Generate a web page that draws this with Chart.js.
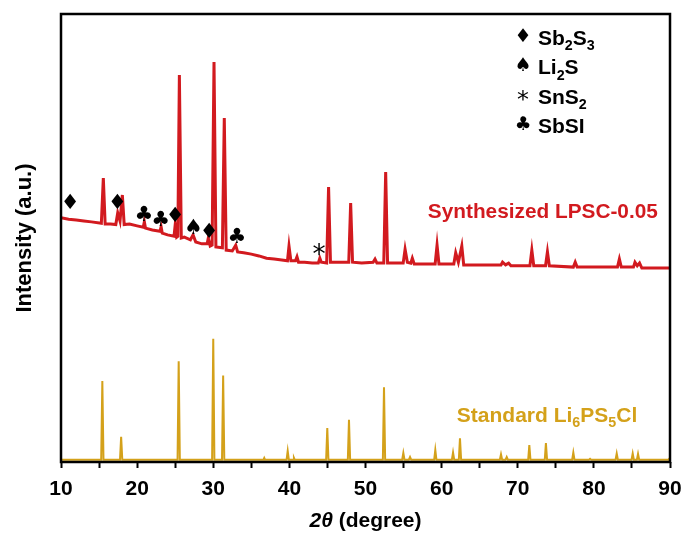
<!DOCTYPE html>
<html>
<head>
<meta charset="utf-8">
<style>
  html, body { margin: 0; padding: 0; background: #fff; }
  canvas { display: block; }
</style>
<script src="https://cdn.jsdelivr.net/npm/chart.js@4.4.1/dist/chart.umd.min.js"></script>
</head>
<body>
<canvas id="xrd-chart" width="689" height="533"></canvas>
<script>
// Synthesized LPSC-0.05 pattern (intensity before stacking offset)
const redTheta = [
  10.0, 11.0, 12.0, 13.0, 14.0, 15.3, 15.56, 15.8, 16.5, 17.2, 17.45, 17.75, 18.06, 18.3,
  19.0, 20.0, 20.8, 20.95, 21.1, 22.0, 23.0, 23.15, 23.3, 24.0, 24.85, 25.0, 25.2, 25.35,
  25.55, 25.8, 26.2, 27.0, 27.35, 27.7, 28.5, 29.2, 29.35, 29.6, 29.85, 30.1, 30.35, 31.2,
  31.45, 31.7, 32.5, 32.95, 33.2, 34.0, 35.0, 36.0, 37.0, 38.0, 39.0, 39.75, 39.95, 40.2,
  40.8, 41.0, 41.2, 42.0, 43.0, 43.8, 44.0, 44.2, 44.9, 45.15, 45.4, 46.5, 47.8, 48.05,
  48.3, 49.5, 51.0, 51.25, 51.5, 52.4, 52.65, 52.9, 54.0, 54.95, 55.2, 55.5, 55.95, 56.15,
  56.4, 58.0, 59.15, 59.4, 59.65, 61.6, 61.85, 62.2, 62.65, 62.9, 64.0, 66.0, 67.8, 68.0,
  68.4, 68.8, 69.1, 71.6, 71.85, 72.1, 73.65, 73.9, 74.15, 77.3, 77.55, 77.8, 80.0, 83.1,
  83.35, 83.6, 85.2, 85.4, 85.7, 86.0, 86.3, 88.0, 90.0
];
const redIntensity = [
  4.5, 4.2, 4.0, 3.8, 3.6, 3.3, 13.4, 3.1, 3.1, 3.0, 5.6, 3.8, 9.6, 3.0,
  3.1, 2.7, 2.4, 3.6, 2.2, 1.8, 1.5, 2.5, 1.1, 0.7, 0.4, 2.9, 0.2, 0.4,
  36.4, 0.0, 0.2, -0.4, 0.7, -0.9, -1.3, -1.3, 0.0, -1.8, -1.6, 39.3, -2.0, -2.2,
  26.8, -2.7, -2.9, -1.6, -3.1, -3.3, -3.6, -4.0, -4.5, -4.7, -4.9, -5.1, -1.8, -5.1,
  -5.1, -4.2, -5.4, -5.4, -5.6, -5.6, -4.5, -5.4, -5.6, 11.4, -5.4, -5.4, -5.4, 7.8,
  -5.4, -5.6, -5.4, -4.7, -5.6, -5.6, 14.7, -5.6, -5.6, -5.6, -2.5, -5.4, -5.6, -4.5,
  -5.8, -5.8, -5.8, -1.6, -5.8, -5.8, -3.3, -5.4, -1.8, -6.0, -6.0, -6.0, -6.0, -5.4,
  -6.0, -5.6, -6.2, -6.2, -2.7, -6.2, -6.2, -3.1, -6.2, -6.5, -5.4, -6.5, -6.5, -6.5,
  -4.7, -6.5, -6.5, -5.4, -6.2, -5.6, -6.7, -6.7, -6.7
];
const redOffset = 50;

// Standard Li6PS5Cl reference pattern
const goldTheta = [
  10.0, 15.28, 15.43, 15.58, 17.75, 17.9, 18.05, 25.31, 25.46, 25.61, 29.85, 30.0, 30.15,
  31.15, 31.3, 31.45, 36.6, 36.7, 36.8, 39.63, 39.78, 39.93, 40.5, 40.6, 40.7, 44.83, 44.98,
  45.13, 47.68, 47.83, 47.98, 52.28, 52.43, 52.58, 54.82, 54.97, 55.12, 55.7, 55.85, 56.0,
  59.02, 59.17, 59.32, 61.35, 61.5, 61.65, 62.26, 62.41, 62.56, 67.65, 67.8, 67.95, 68.4,
  68.55, 68.7, 71.37, 71.52, 71.67, 73.55, 73.7, 73.85, 77.15, 77.3, 77.45, 79.35, 79.5,
  79.65, 82.85, 83.0, 83.15, 84.95, 85.1, 85.25, 85.65, 85.8, 85.95, 89.8, 90.0
];
const goldIntensity = [
  0.5, 0.5, 18.1, 0.5, 0.5, 5.6, 0.5, 0.5, 22.5, 0.5, 0.5, 27.5, 0.5,
  0.5, 19.3, 0.5, 0.5, 0.9, 0.5, 0.5, 2.5, 0.5, 0.5, 0.9, 0.5, 0.5, 7.6,
  0.5, 0.5, 9.4, 0.5, 0.5, 16.7, 0.5, 0.5, 2.0, 0.5, 0.5, 1.1, 0.5,
  0.5, 2.7, 0.5, 0.5, 2.1, 0.5, 0.5, 5.3, 0.5, 0.5, 1.7, 0.5, 0.5,
  1.1, 0.5, 0.5, 3.8, 0.5, 0.5, 4.2, 0.5, 0.5, 2.1, 0.5, 0.5, 0.7,
  0.5, 0.5, 1.9, 0.5, 0.5, 1.9, 0.5, 0.5, 1.8, 0.5, 0.5, 0.9
];

// impurity markers above the synthesized pattern
const markerTheta = [11.2, 17.4, 20.9, 23.1, 25.0, 27.4, 29.45, 33.1, 43.9];
const markerLevel = [7.6, 7.6, 5.1, 3.8, 4.7, 2.0, 1.3, 0.2, -2.9];
const markerSymbol = ['\u2666', '\u2666', '\u2663', '\u2663', '\u2666', '\u2660', '\u2666', '\u2663', '*'];

// phase key (symbol, formula parts)
const keySymbols = ['\u2666', '\u2660', '*', '\u2663'];
const keyLabels = [
  [['Sb'], ['2', 'sub'], ['S'], ['3', 'sub']],
  [['Li'], ['2', 'sub'], ['S']],
  [['SnS'], ['2', 'sub']],
  [['SbSI']]
];

const xTicks = [10, 20, 30, 40, 50, 60, 70, 80, 90];

const RED = '#d21a1f';
const GOLD = '#d4a11a';
const FONT = '"Liberation Sans", Arial, sans-serif';
const SYMBOL_FONT = '"DejaVu Sans", sans-serif';

function toPoints(xs, ys, shift) {
  return xs.map((x, i) => ({ x: x, y: ys[i] + shift }));
}

// text with subscripts, parts = [[text, 'sub'?], ...]
function drawRich(ctx, parts, x, y, size, align) {
  const widths = parts.map(p => {
    ctx.font = 'bold ' + (p[1] === 'sub' ? size * 0.68 : size) + 'px ' + FONT;
    return ctx.measureText(p[0]).width;
  });
  const total = widths.reduce((a, b) => a + b, 0);
  let cx = align === 'right' ? x - total : x;
  ctx.textBaseline = 'alphabetic';
  ctx.textAlign = 'left';
  parts.forEach((p, i) => {
    const sub = p[1] === 'sub';
    ctx.font = 'bold ' + (sub ? size * 0.68 : size) + 'px ' + FONT;
    ctx.fillText(p[0], cx, y + (sub ? size * 0.28 : 0));
    cx += widths[i];
  });
}

function drawSymbol(ctx, s, x, y, size) {
  ctx.textAlign = 'center';
  ctx.textBaseline = 'middle';
  ctx.font = (s === '*' ? size * 1.25 : size) + 'px ' + SYMBOL_FONT;
  ctx.fillText(s, x, y + (s === '*' ? size * 0.25 : 0));
}

const decorations = {
  id: 'decorations',
  afterDatasetsDraw(chart) {
    const { ctx, chartArea, scales } = chart;
    const sx = scales.x, sy = scales.y;
    ctx.save();

    // impurity markers
    ctx.fillStyle = '#000';
    markerSymbol.forEach((s, i) => {
      drawSymbol(ctx, s, sx.getPixelForValue(markerTheta[i]), sy.getPixelForValue(markerLevel[i] + redOffset), 21);
    });

    // phase key
    keySymbols.forEach((s, i) => {
      const y = chartArea.top + 23 + i * 29.5;
      ctx.fillStyle = '#000';
      drawSymbol(ctx, s, chartArea.left + 462, y, 19);
      drawRich(ctx, keyLabels[i], chartArea.left + 477, y + 7.5, 21, 'left');
    });

    // series labels
    ctx.fillStyle = RED;
    drawRich(ctx, [['Synthesized LPSC-0.05']], sx.getPixelForValue(88.4), sy.getPixelForValue(56.25) + 7.5, 20.8, 'right');
    ctx.fillStyle = GOLD;
    drawRich(ctx, [['Standard Li'], ['6', 'sub'], ['PS'], ['5', 'sub'], ['Cl']],
      sx.getPixelForValue(62.0), sy.getPixelForValue(10.7) + 7.5, 21, 'left');

    // frame
    ctx.strokeStyle = '#000';
    ctx.lineWidth = 2.5;
    ctx.strokeRect(chartArea.left, chartArea.top, chartArea.right - chartArea.left, chartArea.bottom - chartArea.top);

    // x axis title: 2θ (degree), θ in italics
    ctx.fillStyle = '#000';
    ctx.textBaseline = 'alphabetic';
    const parts = [['2', 'bold italic'], ['\u03b8', 'bold italic'], [' (degree)', 'bold']];
    const size = 21;
    const w = parts.map(p => { ctx.font = p[1] + ' ' + size + 'px ' + FONT; return ctx.measureText(p[0]).width; });
    let cx = (chartArea.left + chartArea.right) / 2 - w.reduce((a, b) => a + b, 0) / 2;
    parts.forEach((p, i) => {
      ctx.font = p[1] + ' ' + size + 'px ' + FONT;
      ctx.textAlign = 'left';
      ctx.fillText(p[0], cx, 527);
      cx += w[i];
    });
    ctx.restore();
  }
};

new Chart(document.getElementById('xrd-chart'), {
  type: 'line',
  data: {
    datasets: [
      {
        label: 'Synthesized LPSC-0.05',
        data: toPoints(redTheta, redIntensity, redOffset),
        borderColor: RED,
        borderWidth: 3,
        pointRadius: 0,
        tension: 0,
      },
      {
        label: 'Standard Li6PS5Cl',
        data: toPoints(goldTheta, goldIntensity, 0),
        borderColor: GOLD,
        borderWidth: 2,
        pointRadius: 0,
        tension: 0,
      },
    ],
  },
  options: {
    responsive: false,
    animation: false,
    devicePixelRatio: 1,
    layout: { padding: { top: 14, right: 19, left: 0, bottom: 0 } },
    plugins: {
      legend: { display: false },
      tooltip: { enabled: false },
    },
    scales: {
      x: {
        type: 'linear',
        min: 10,
        max: 90,
        afterFit: scale => {
          scale.height = 71;
          // frame position is set by layout padding, not by the tick label overhang
          scale.paddingLeft = 0;
          scale.paddingRight = 0;
        },
        afterBuildTicks: scale => {
          const t = [];
          for (let i = 0; i < xTicks.length; i++) {
            t.push({ value: xTicks[i] });
            if (i < xTicks.length - 1) t.push({ value: xTicks[i] + 5 });
          }
          scale.ticks = t;
        },
        ticks: {
          autoSkip: false,
          maxRotation: 0,
          color: '#000',
          padding: 9,
          font: { family: FONT, size: 21, weight: 'bold' },
          callback: v => (xTicks.includes(v) ? v : ''),
        },
        grid: {
          drawOnChartArea: false,
          tickLength: 6,
          tickWidth: 2,
          tickColor: '#000',
        },
        border: { display: false },
      },
      y: {
        min: 0,
        max: 100,
        afterFit: scale => { scale.width = 61; },
        ticks: { display: false },
        grid: { display: false },
        border: { display: false },
        title: {
          display: true,
          text: 'Intensity (a.u.)',
          color: '#000',
          padding: { top: 12, bottom: 0 },
          font: { family: FONT, size: 22, weight: 'bold' },
        },
      },
    },
  },
  plugins: [decorations],
});
</script>
</body>
</html>
